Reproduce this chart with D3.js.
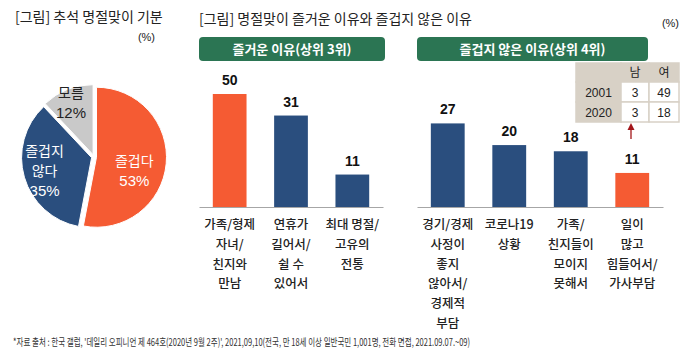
<!DOCTYPE html>
<html><head><meta charset="utf-8">
<script src="https://cdn.jsdelivr.net/npm/d3@7"></script>
<style>
body{margin:0;background:#fff;}
svg{display:block;font-family:"Noto Sans CJK KR","Liberation Sans",sans-serif;}
</style>
</head><body>
<svg id="c" width="699" height="360"></svg>
<script>
// ---------- data ----------
const pieCategories = [["즐겁다"], ["즐겁지", "않다"], ["모름"]];
const pieValues = [53, 35, 12];

const likeCategories = [["가족/형제","자녀/","친지와","만남"], ["연휴가","길어서/","쉴 수","있어서"], ["최대 명절/","고유의","전통"]];
const likeValues = [50, 31, 11];

const dislikeCategories = [["경기/경제","사정이","좋지","않아서/","경제적","부담"], ["코로나19","상황"], ["가족/","친지들이","모이지","못해서"], ["일이","많고","힘들어서/","가사부담"]];
const dislikeValues = [27, 20, 18, 11];

const tableHeader = ["", "남", "여"];
const tableYears = ["2001", "2020"];
const tableMale = [3, 3];
const tableFemale = [49, 18];

const titleLeft = "[그림] 추석 명절맞이 기분";
const titleRight = "[그림] 명절맞이 즐거운 이유와 즐겁지 않은 이유";
const headLike = "즐거운 이유(상위 3위)";
const headDislike = "즐겁지 않은 이유(상위 4위)";
const footnote = "*자료 출처 : 한국 갤럽,  '데일리 오피니언 제 464호(2020년 9월 2주)', 2021,09,10(전국, 만 18세 이상 일반국민 1,001명, 전화 면접, 2021.09.07.~09)";

// ---------- style ----------
const ORANGE = "#f55b33", NAVY = "#2a4e7e", GRAY = "#c9c9c9", GREEN = "#2b7553", DARK = "#222";
const svg = d3.select("#c");

// titles
svg.append("text").attr("x", 15).attr("y", 22).attr("font-size", 14).attr("fill", DARK).text(titleLeft);
svg.append("text").attr("x", 155).attr("y", 41).attr("text-anchor", "end").attr("font-size", 11).attr("fill", DARK).attr("font-family","Liberation Sans").text("(%)");
svg.append("text").attr("x", 199).attr("y", 24).attr("font-size", 14).attr("fill", DARK).text(titleRight);
svg.append("text").attr("x", 679).attr("y", 27).attr("text-anchor", "end").attr("font-size", 11).attr("fill", DARK).attr("font-family","Liberation Sans").text("(%)");

// ---------- pie ----------
const cx = 94, cy = 157, R = 70;
const pieColors = [ORANGE, NAVY, GRAY];
const textColors = ["#fff", "#fff", DARK];
const labelR = [38, 49, 60];
const labelDy = [10, 0, 4];
const pie = d3.pie().sort(null).value(d => d)(pieValues);
const arc = d3.arc().innerRadius(0).outerRadius(R);
const pg = svg.append("g").attr("transform", `translate(${cx},${cy})`);
pie.forEach((p, i) => {
  const mid = (p.startAngle + p.endAngle) / 2;
  const off = 2.5;
  const g = pg.append("g").attr("transform", `translate(${Math.sin(mid)*off},${-Math.cos(mid)*off})`);
  g.append("path").attr("d", arc(p)).attr("fill", pieColors[i]).attr("stroke", "#fff").attr("stroke-width", 1);
  const lx = Math.sin(mid) * labelR[i], ly = -Math.cos(mid) * labelR[i] + labelDy[i];
  const lines = pieCategories[i].concat([pieValues[i] + "%"]);
  const t = g.append("text").attr("text-anchor", "middle").attr("fill", textColors[i]).attr("font-size", 14);
  const n = lines.length;
  lines.forEach((s, k) => {
    t.append("tspan").attr("x", lx).attr("y", ly + (k - (n - 1) / 2) * 20 + 5)
      .attr("font-family", k === n - 1 ? "Liberation Sans" : null)
      .attr("font-size", k === n - 1 ? 15 : 14)
      .text(s);
  });
});

// ---------- bar charts ----------
function barChart(cats, vals, x0, x1, hi, maxDom) {
  const baseY = 207, topY = 94;
  const x = d3.scaleBand().domain(d3.range(vals.length)).range([x0, x1]).paddingInner(0.45).paddingOuter(0.225);
  const y = d3.scaleLinear().domain([0, maxDom]).range([baseY, topY]).clamp(true);
  const g = svg.append("g");
  g.selectAll("rect").data(vals).join("rect")
    .attr("x", (d, i) => x(i)).attr("width", x.bandwidth())
    .attr("y", d => y(d)).attr("height", d => baseY - y(d))
    .attr("fill", (d, i) => i === hi ? ORANGE : NAVY);
  g.selectAll("text.val").data(vals).join("text").attr("class", "val")
    .attr("x", (d, i) => x(i) + x.bandwidth() / 2).attr("y", d => y(d) - 9)
    .attr("text-anchor", "middle").attr("font-family", "Liberation Sans").attr("font-weight", "bold")
    .attr("font-size", 14).attr("fill", "#111").text(d => d);
  const axis = d3.axisBottom(x).tickSize(0).tickFormat("");
  const ag = g.append("g").attr("transform", `translate(0,${baseY})`).call(axis);
  ag.select(".domain").attr("stroke", "#a6a6a6").attr("stroke-width", 1.2);
  cats.forEach((lines, i) => {
    const t = g.append("text").attr("text-anchor", "middle").attr("font-size", 12.5).attr("font-weight", 500).attr("fill", DARK);
    lines.forEach((s, k) => {
      t.append("tspan").attr("x", x(i) + x.bandwidth() / 2).attr("y", 229 + k * 19.8).text(s);
    });
  });
}
barChart(likeCategories, likeValues, 199, 383, 0, 38.3);
barChart(dislikeCategories, dislikeValues, 417, 663, 3, 36.5);

// green headers
[[199, 385, headLike], [417, 648, headDislike]].forEach(([a, b, s]) => {
  svg.append("rect").attr("x", a).attr("y", 37).attr("width", b - a).attr("height", 24).attr("rx", 4).attr("fill", GREEN);
  svg.append("text").attr("x", (a + b) / 2).attr("y", 54).attr("text-anchor", "middle").attr("fill", "#fff")
    .attr("font-size", 13).attr("font-weight", "bold").text(s);
});

// ---------- table ----------
const colX = [576, 621, 649, 679];
const rowY = [63, 82, 102, 122];
const TBG = "#d8d1c6";
const tg = svg.append("g").attr("font-family", "Liberation Sans, Noto Sans CJK KR").attr("font-size", 12).attr("fill", DARK);
const rows = [tableHeader, [tableYears[0], tableMale[0], tableFemale[0]], [tableYears[1], tableMale[1], tableFemale[1]]];
rows.forEach((r, ri) => {
  r.forEach((v, ci) => {
    const isHead = ri === 0 || ci === 0;
    tg.append("rect").attr("x", colX[ci]).attr("y", rowY[ri]).attr("width", colX[ci + 1] - colX[ci]).attr("height", rowY[ri + 1] - rowY[ri])
      .attr("fill", isHead ? TBG : "#fff").attr("stroke", TBG).attr("stroke-width", 1.5);
    tg.append("text").attr("x", (colX[ci] + colX[ci + 1]) / 2).attr("y", (rowY[ri] + rowY[ri + 1]) / 2 + 4.5)
      .attr("text-anchor", "middle").text(v);
  });
});
// arrow
const arrowX = (colX[1] + colX[2]) / 2 - 4;
svg.append("line").attr("x1", arrowX).attr("x2", arrowX).attr("y1", 139).attr("y2", 128).attr("stroke", "#a3161a").attr("stroke-width", 1.3);
svg.append("path").attr("d", `M${arrowX - 3.5},${130} L${arrowX},${123} L${arrowX + 3.5},${130} Z`).attr("fill", "#a3161a");

// footnote
svg.append("text").attr("x", 13).attr("y", 346).attr("font-size", 10.5).attr("fill", "#333")
  .attr("textLength", 457).attr("lengthAdjust", "spacingAndGlyphs").text(footnote);
</script>
</body></html>
